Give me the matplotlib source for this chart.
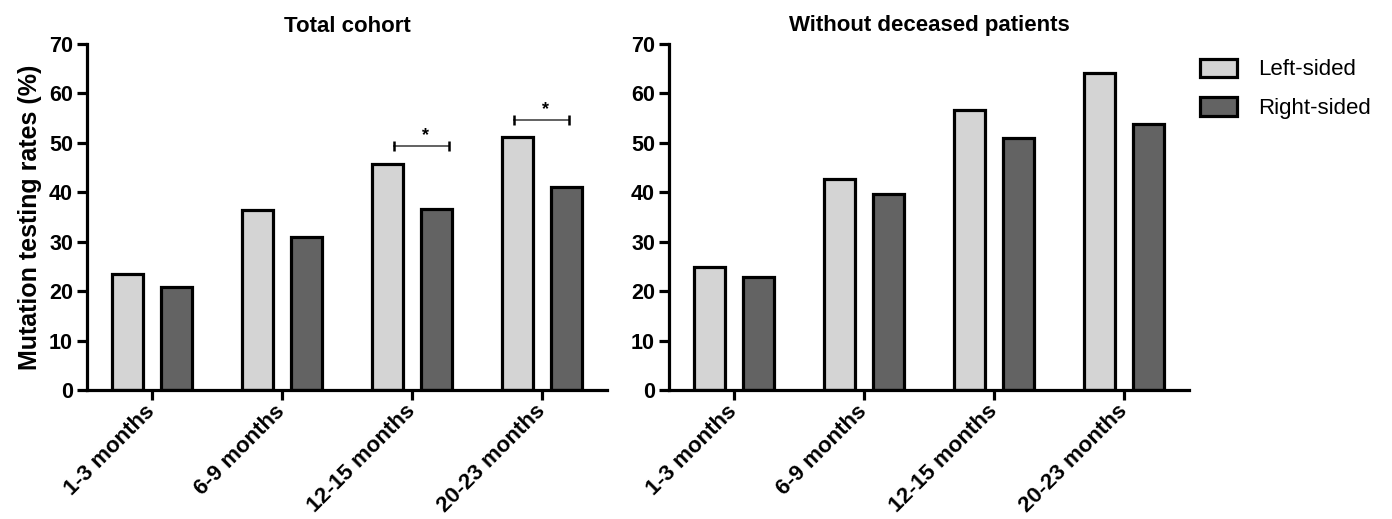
import numpy as np
import matplotlib
matplotlib.use("Agg")
import matplotlib.pyplot as plt

plt.rcParams['font.family'] = ['Liberation Sans', 'DejaVu Sans']

# data
periods = ["1-3 months", "6-9 months", "12-15 months", "20-23 months"]
total_left = [23.5, 36.4, 45.7, 51.2]
total_right = [20.8, 30.9, 36.6, 41.0]
alive_left = [24.8, 42.6, 56.7, 64.1]
alive_right = [22.8, 39.6, 50.9, 53.9]
# significance brackets on the total cohort panel: (x from, x to, height)
sig_brackets = [(1.86, 2.285, 49.3), (2.785, 3.21, 54.6)]

light = "#d4d4d4"
dark = "#636363"

fig = plt.figure(figsize=(13.92, 5.19), dpi=100)
ax1 = fig.add_axes([87/1392, 1 - 390/519, 520/1392, 346/519])
ax2 = fig.add_axes([669/1392, 1 - 390/519, 520/1392, 346/519])

x = np.arange(len(periods))
w = 0.235
off = 0.19

for ax, left, right, title in [(ax1, total_left, total_right, "Total cohort"),
                               (ax2, alive_left, alive_right, "Without deceased patients")]:
    ax.bar(x - off, left, w, color=light, edgecolor="black", linewidth=2.3,
           label="Left-sided", zorder=2)
    ax.bar(x + off, right, w, color=dark, edgecolor="black", linewidth=2.3,
           label="Right-sided", zorder=2)
    ax.set_xlim(-0.5, 3.5)
    ax.set_ylim(0, 70)
    ax.set_yticks(range(0, 71, 10))
    ax.set_xticks(x)
    ax.set_xticklabels(periods, rotation=45, ha="right", va="center",
                       rotation_mode="anchor", fontsize=16, fontweight="bold")
    for lab in ax.get_yticklabels():
        lab.set_fontsize(15.5)
        lab.set_fontweight("bold")
    ax.spines["top"].set_visible(False)
    ax.spines["right"].set_visible(False)
    ax.spines["left"].set_linewidth(2.3)
    ax.spines["bottom"].set_linewidth(2.3)
    ax.tick_params(axis="both", width=2.3, length=7, pad=3)
    ax.tick_params(axis="x", pad=6)
    ax.set_title(title, fontsize=16, fontweight="bold", pad=9)

ax1.set_ylabel("Mutation testing rates (%)", fontsize=18, fontweight="bold", labelpad=5)

for x0, x1, yb in sig_brackets:
    ax1.plot([x0, x1], [yb, yb], color="#555555", lw=1.3, zorder=3)
    ax1.plot([x0, x1], [yb, yb], ls="none", marker="|", ms=7, mew=1.8,
             color="black", zorder=3)
    ax1.text((x0 + x1) / 2 + 0.03, yb + 0.4, "*", ha="center", va="bottom",
             fontsize=13, fontweight="bold")

handles, labels = ax2.get_legend_handles_labels()
fig.legend(handles, labels, loc="upper left", bbox_to_anchor=(1184/1392, 1 - 43/519),
           frameon=False, fontsize=16, handlelength=1.7, handleheight=0.9,
           handletextpad=0.95, labelspacing=0.75, borderpad=0.2)

fig.savefig("out.png", dpi=100)
